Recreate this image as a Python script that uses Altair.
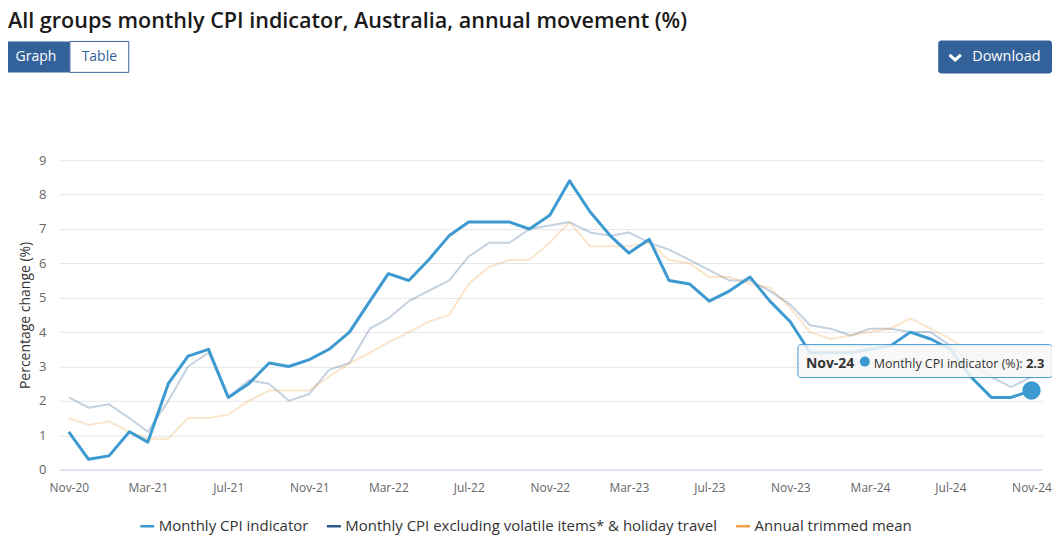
import altair as alt
import pandas as pd

TITLE = "All groups monthly CPI indicator, Australia, annual movement (%)"
SERIES = [
    "Monthly CPI indicator",
    "Monthly CPI excluding volatile items* & holiday travel",
    "Annual trimmed mean",
]
COLORS = ["#3d9ad1", "#2b5b8c", "#f0a04b"]
Y_TITLE = "Percentage change (%)"

# monthly observations, Nov-20 .. Nov-24
MONTHS = [d.strftime("%Y-%m-%d") for d in pd.date_range("2020-11-01", "2024-11-01", freq="MS")]

cpi = [1.1, 0.3, 0.4, 1.1, 0.8, 2.5, 3.3, 3.5, 2.1, 2.5, 3.1, 3.0,
       3.2, 3.5, 4.0, 4.9, 5.7, 5.5, 6.1, 6.8, 7.2, 7.2, 7.2, 7.0,
       7.4, 8.4, 7.5, 6.8, 6.3, 6.7, 5.5, 5.4, 4.9, 5.2, 5.6, 4.9,
       4.3, 3.4, 3.4, 3.4, 3.5, 3.6, 4.0, 3.8, 3.5, 2.7, 2.1, 2.1, 2.3]
excl = [2.1, 1.8, 1.9, 1.5, 1.1, 2.0, 3.0, 3.4, 2.1, 2.6, 2.5, 2.0,
        2.2, 2.9, 3.1, 4.1, 4.4, 4.9, 5.2, 5.5, 6.2, 6.6, 6.6, 7.0,
        7.1, 7.2, 6.9, 6.8, 6.9, 6.6, 6.4, 6.1, 5.8, 5.5, 5.5, 5.2,
        4.8, 4.2, 4.1, 3.9, 4.1, 4.1, 4.0, 4.0, 3.6, 3.1, 2.7, 2.4, 2.7]
trim = [1.5, 1.3, 1.4, 1.1, 0.9, 0.9, 1.5, 1.5, 1.6, 2.0, 2.3, 2.3,
        2.3, 2.7, 3.1, 3.4, 3.7, 4.0, 4.3, 4.5, 5.4, 5.9, 6.1, 6.1,
        6.6, 7.2, 6.5, 6.5, 6.5, 6.6, 6.1, 6.0, 5.6, 5.6, 5.4, 5.3,
        4.7, 4.0, 3.8, 3.9, 4.0, 4.1, 4.4, 4.1, 3.8, 3.4, 3.2, 3.0, 2.9]

TICK_MONTHS = [(2020, 11), (2021, 3), (2021, 7), (2021, 11), (2022, 3), (2022, 7),
               (2022, 11), (2023, 3), (2023, 7), (2023, 11), (2024, 3), (2024, 7),
               (2024, 11)]
Y_TICKS = [0, 1, 2, 3, 4, 5, 6, 7, 8, 9]
TIP_HEAD = "Nov-24"

rows = []
for s, vals in zip(SERIES, [cpi, excl, trim]):
    for d, v in zip(MONTHS, vals):
        rows.append({"date": d, "value": v, "series": s})
df = pd.DataFrame(rows)

tip = pd.DataFrame({
    "date": [MONTHS[-1]], "value": [cpi[-1]], "head": [TIP_HEAD],
    "label": [SERIES[0] + " (%): "], "val": [f"{cpi[-1]}"],
})

W, H = 985, 310
BLUE_BTN = "#33629a"

x = alt.X(
    "date:T",
    scale=alt.Scale(type="utc", domain=[alt.DateTime(year=2020, month=10, date=17, utc=True),
                                        alt.DateTime(year=2024, month=11, date=17, utc=True)]),
    axis=alt.Axis(title=None, labelExpr="utcFormat(datum.value, '%b-%y')",
                  values=[alt.DateTime(year=yy, month=mm, date=1, utc=True) for yy, mm in TICK_MONTHS],
                  grid=False, ticks=False, domainColor="#ccd6eb", domainWidth=1,
                  labelColor="#666666", labelFontSize=12, labelPadding=13,
                  labelOverlap=False, labelBound=False, labelFlush=False),
)
y = alt.Y(
    "value:Q",
    scale=alt.Scale(domain=[0, 9], nice=False),
    axis=alt.Axis(title=Y_TITLE, values=Y_TICKS, grid=True, gridColor="#e6e6e6",
                  domain=False, ticks=False, labelColor="#666666", labelFontSize=13,
                  labelPadding=13, titleFontSize=14, titleColor="#333333",
                  titleFontWeight="normal", titlePadding=6),
)
color = alt.Color(
    "series:N",
    scale=alt.Scale(domain=SERIES, range=COLORS),
    legend=alt.Legend(title=None, orient="none", legendX=80, legendY=358,
                      direction="horizontal", symbolType="stroke", symbolSize=196,
                      symbolStrokeWidth=2.5, symbolOpacity=1, labelFontSize=15,
                      labelColor="#333333", labelOffset=3, columnPadding=13,
                      labelLimit=700),
)

faded = alt.Chart(df).transform_filter(alt.datum.series != SERIES[0]).mark_line(
    strokeWidth=2, strokeOpacity=0.28, strokeJoin="round").encode(x=x, y=y, color=color)
main = alt.Chart(df).transform_filter(alt.datum.series == SERIES[0]).mark_line(
    strokeWidth=3, strokeJoin="round").encode(x=x, y=y, color=color)

tb = alt.Chart(tip)
tip_box = tb.mark_rect(width=255, height=33, xOffset=-106.5, yOffset=-29.5,
                       fill="#f7f7f7", fillOpacity=0.85, stroke="#3d9ad1",
                       strokeWidth=1, cornerRadius=3).encode(x=x, y=y)
tip_point = tb.mark_point(filled=True, shape="circle", size=340, color="#3d9ad1",
                          opacity=1).encode(x=x, y=y)
tip_head = tb.mark_text(align="left", baseline="alphabetic", dx=-226, dy=-23,
                        fontSize=14, fontWeight="bold", color="#333333").encode(x=x, y=y, text="head:N")
tip_dot = tb.mark_point(filled=True, shape="circle", size=100, color="#3d9ad1",
                        opacity=1, xOffset=-167, yOffset=-29).encode(x=x, y=y)
tip_label = tb.mark_text(align="left", baseline="alphabetic", dx=-158, dy=-23,
                         fontSize=12.5, color="#333333").encode(x=x, y=y, text="label:N")
tip_val = tb.mark_text(align="right", baseline="alphabetic", dx=13, dy=-23,
                       fontSize=13, fontWeight="bold", color="#333333").encode(x=x, y=y, text="val:N")

# page header: title and buttons
one = pd.DataFrame({"t": [TITLE], "g": ["Graph"], "tb": ["Table"], "d": ["Download"]})
hc = alt.Chart(one)
title = hc.mark_text(align="left", baseline="alphabetic", fontSize=21.6, fontWeight=600,
                     color="#1a1a1a").encode(x=alt.value(-51), y=alt.value(-132), text="t:N")
graph_btn = hc.mark_rect(fill=BLUE_BTN).encode(
    x=alt.value(-51), x2=alt.value(11), y=alt.value(-119), y2=alt.value(-88))
table_btn = hc.mark_rect(fill="white", stroke=BLUE_BTN, strokeWidth=1).encode(
    x=alt.value(11), x2=alt.value(70), y=alt.value(-119), y2=alt.value(-88))
graph_txt = hc.mark_text(align="center", baseline="middle", fontSize=14, color="white").encode(
    x=alt.value(-23), y=alt.value(-103), text="g:N")
table_txt = hc.mark_text(align="center", baseline="middle", fontSize=14, color=BLUE_BTN).encode(
    x=alt.value(40.5), y=alt.value(-103), text="tb:N")
dl_btn = hc.mark_rect(fill=BLUE_BTN, cornerRadius=3).encode(
    x=alt.value(881), x2=alt.value(995), y=alt.value(-120), y2=alt.value(-87))
dl_icon = hc.mark_point(shape="M-1,-0.45L0,0.45L1,-0.45", filled=False, stroke="white",
                        strokeWidth=3, size=130, opacity=1).encode(x=alt.value(898), y=alt.value(-103))
dl_txt = hc.mark_text(align="left", baseline="middle", fontSize=14.5, color="white").encode(
    x=alt.value(915), y=alt.value(-103), text="d:N")

chart = alt.layer(
    faded, main, tip_box, tip_point, tip_head, tip_dot, tip_label, tip_val,
    title, graph_btn, table_btn, graph_txt, table_txt, dl_btn, dl_icon, dl_txt,
).properties(
    width=W, height=H,
    autosize=alt.AutoSizeParams(type="none"),
    padding={"left": 51, "top": 152, "right": 10, "bottom": 66},
).configure(font="Open Sans").configure_view(stroke=None)

chart.save("out.html", embed_options={"renderer": "svg", "actions": False})
